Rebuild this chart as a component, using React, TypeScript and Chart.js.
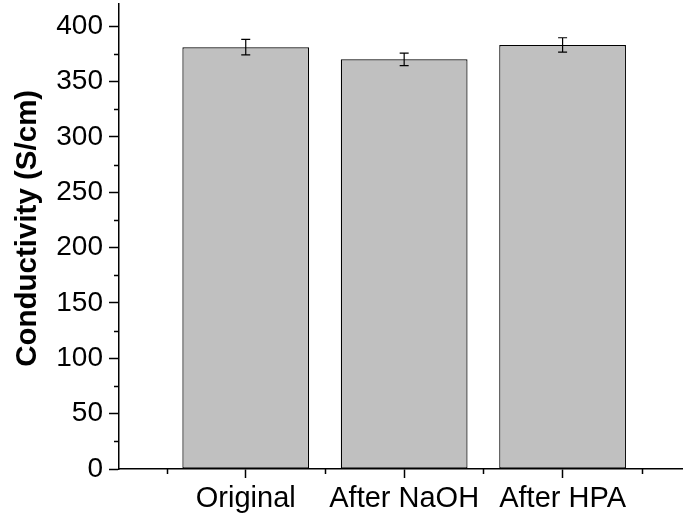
import React, { useEffect, useRef } from 'react';
import { Chart, registerables } from 'chart.js';

Chart.register(...registerables);

const categories = ['Original', 'After NaOH', 'After HPA'];
const positions = [1, 2, 3];
const conductivity = [381, 370, 383];
const errors = [7, 5.7, 6.5];
const yMajorTicks = [0, 50, 100, 150, 200, 250, 300, 350, 400];
const yMinorTicks = [25, 75, 125, 175, 225, 275, 325, 375];
const xMinorTicks = [0.5, 1.5, 2.5, 3.5];

const FONT = 'Liberation Sans, Arial, sans-serif';

const extrasPlugin = {
  id: 'extras',
  afterDatasetsDraw(chart: any) {
    const ctx = chart.ctx;
    const xs = chart.scales.x;
    const ys = chart.scales.y;
    ctx.save();
    ctx.strokeStyle = '#000';
    ctx.lineWidth = 1.2;
    positions.forEach((p, i) => {
      const x = xs.getPixelForValue(p);
      const yt = ys.getPixelForValue(conductivity[i] + errors[i]);
      const yb = ys.getPixelForValue(conductivity[i] - errors[i]);
      const cap = 4.5;
      ctx.beginPath();
      ctx.moveTo(x, yt);
      ctx.lineTo(x, yb);
      ctx.moveTo(x - cap, yt);
      ctx.lineTo(x + cap, yt);
      ctx.moveTo(x - cap, yb);
      ctx.lineTo(x + cap, yb);
      ctx.stroke();
    });
    ctx.restore();
  },
  afterDraw(chart: any) {
    const ctx = chart.ctx;
    const xs = chart.scales.x;
    const ys = chart.scales.y;
    const area = chart.chartArea;
    ctx.save();
    ctx.strokeStyle = '#000';
    ctx.lineWidth = 1.5;
    ctx.beginPath();
    yMinorTicks.forEach((v) => {
      const y = Math.round(ys.getPixelForValue(v)) + 0.5;
      ctx.moveTo(area.left - 5, y);
      ctx.lineTo(area.left, y);
    });
    xMinorTicks.forEach((v) => {
      const x = Math.round(xs.getPixelForValue(v)) + 0.5;
      ctx.moveTo(x, area.bottom);
      ctx.lineTo(x, area.bottom + 5);
    });
    ctx.stroke();
    ctx.restore();
  },
};

export default function App() {
  const ref = useRef<HTMLCanvasElement>(null);
  useEffect(() => {
    document.body.style.margin = '0';
    const canvas = ref.current!;
    const chart = new Chart(canvas, {
      type: 'bar',
      data: {
        datasets: [
          {
            data: positions.map((x, i) => ({ x, y: conductivity[i] })),
            backgroundColor: '#c0c0c0',
            borderColor: '#000',
            borderWidth: 1.2,
            borderSkipped: false,
            categoryPercentage: 1,
            barPercentage: 0.8,
          },
        ],
      },
      options: {
        responsive: false,
        animation: false,
        devicePixelRatio: 1,
        layout: { padding: { top: 4, right: 0, left: 0, bottom: 0 } },
        plugins: { legend: { display: false }, tooltip: { enabled: false } },
        scales: {
          x: {
            type: 'linear',
            min: 0.2,
            max: 3.76,
            offset: false,
            grid: {
              offset: false,
              display: true,
              drawOnChartArea: false,
              drawTicks: true,
              tickLength: 9,
              tickWidth: 1.5,
              tickColor: '#000',
            },
            border: { display: true, color: '#000', width: 1.5 },
            afterBuildTicks: (scale: any) => {
              scale.ticks = positions.map((v) => ({ value: v }));
            },
            afterFit: (scale: any) => {
              scale.height = 54;
              scale.paddingLeft = 0;
              scale.paddingRight = 0;
            },
            ticks: {
              color: '#000',
              padding: 4,
              maxRotation: 0,
              autoSkip: false,
              font: { family: FONT, size: 29 },
              callback: (v: any) => {
                const idx = positions.indexOf(Number(v));
                return idx >= 0 ? categories[idx] : '';
              },
            },
          },
          y: {
            type: 'linear',
            min: 0,
            max: 420,
            grid: {
              display: true,
              drawOnChartArea: false,
              drawTicks: true,
              tickLength: 10,
              tickWidth: 1.5,
              tickColor: '#000',
            },
            border: { display: true, color: '#000', width: 1.5 },
            afterBuildTicks: (scale: any) => {
              scale.ticks = yMajorTicks.map((v) => ({ value: v }));
            },
            afterFit: (scale: any) => {
              scale.width = 119;
              scale.paddingTop = 0;
              scale.paddingBottom = 0;
            },
            ticks: {
              color: '#000',
              padding: 6,
              font: { family: FONT, size: 28 },
            },
            title: {
              display: true,
              text: '  Conductivity (S/cm)',
              color: '#000',
              padding: { top: 10, bottom: 0 },
              font: { family: FONT, size: 29.5, weight: 'bold' },
            },
          },
        },
      },
      plugins: [extrasPlugin],
    });
    return () => chart.destroy();
  }, []);
  return (
    <div style={{ position: 'absolute', left: 0, top: 0 }}>
      <canvas ref={ref} width={683} height={523} />
    </div>
  );
}
